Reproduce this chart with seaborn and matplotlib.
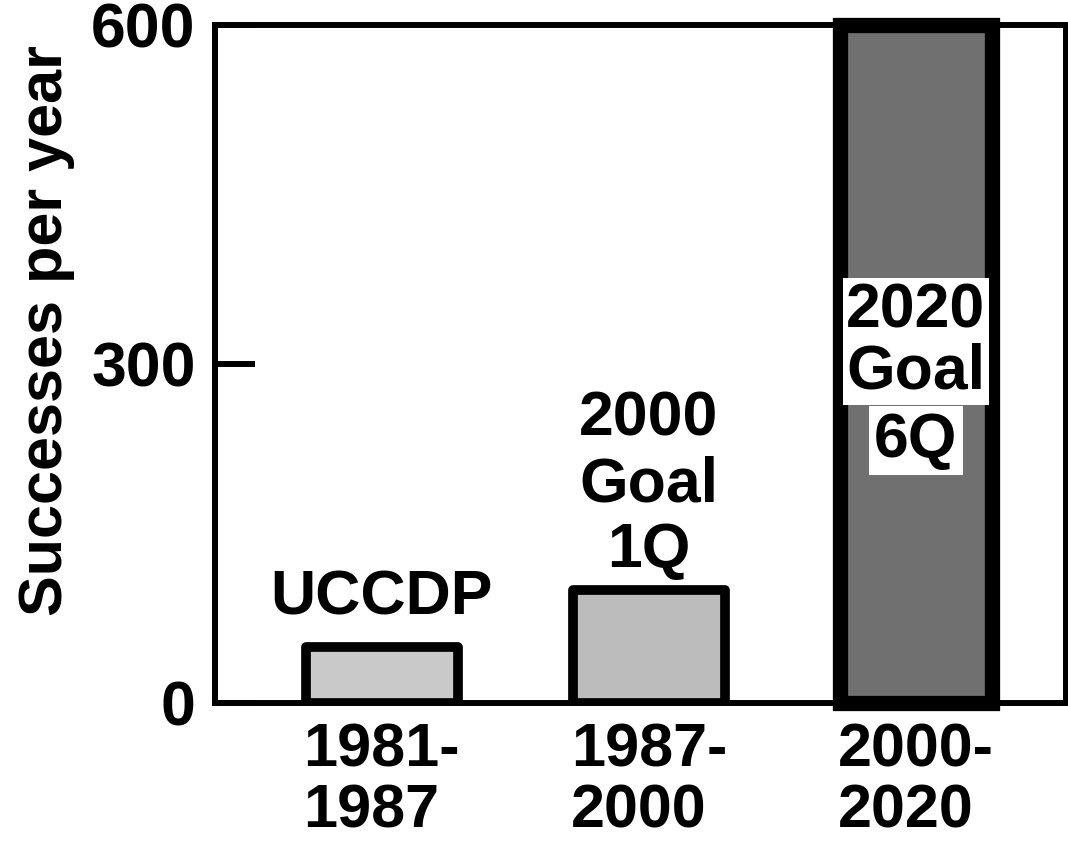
import matplotlib
matplotlib.use("Agg")
import matplotlib.pyplot as plt
import seaborn as sns
import pandas as pd

periods = ["1981-\n1987", "1987-\n2000", "2000-\n2020"]
successes = [50, 100, 600]
bar_colors = ["#c9c9c9", "#bcbcbc", "#707070"]
y_ticks = [0, 300, 600]

sns.set_theme(style="white")
plt.rcParams["font.family"] = ["Liberation Sans", "DejaVu Sans"]
plt.rcParams["font.weight"] = "bold"
plt.rcParams["text.color"] = "black"
plt.rcParams["axes.labelcolor"] = "black"
plt.rcParams["xtick.color"] = "black"
plt.rcParams["ytick.color"] = "black"

df = pd.DataFrame({"period": periods, "successes": successes})

fig = plt.figure(figsize=(10.68, 8.52), dpi=100)
ax = fig.add_axes([215 / 1068, 1 - 703 / 852, 851 / 1068, 678 / 852])

sns.barplot(data=df, x="period", y="successes", hue="period",
            palette=bar_colors, legend=False, width=0.57,
            edgecolor="black", linewidth=7, saturation=1, ax=ax)
for i, p in enumerate(ax.patches):
    p.set_joinstyle("round")
    if i == 2:
        p.set_linewidth(11)
        p.set_joinstyle("miter")
        p.set_clip_on(False)

ax.set_xlim(-0.625, 2.562)
ax.set_ylim(0, 600)
ax.set_yticks(y_ticks)
ax.set_yticklabels([str(t) for t in y_ticks], fontsize=45, fontweight="bold")
for lbl in ax.get_xticklabels():
    lbl.set_fontsize(44)
    lbl.set_fontweight("bold")
    lbl.set_multialignment("left")
    lbl.set_linespacing(1.1)
ax.tick_params(axis="y", left=True, direction="in", length=29, width=4.3, pad=14,
               color="black", labelcolor="black")
ax.tick_params(axis="x", length=0, pad=14, labelcolor="black")
for s in ax.spines.values():
    s.set_visible(True)
    s.set_linewidth(4.3)
    s.set_color("black")

ax.set_xlabel("")
ax.set_ylabel("Successes per year", fontsize=44, fontweight="bold", va="center", color="black")
ax.yaxis.set_label_coords(-0.198, 0.549)

ax.annotate("UCCDP", xy=(0, successes[0]), xytext=(0, 14), textcoords="offset points",
            ha="center", va="bottom", fontsize=45, fontweight="bold", color="black")
ax.annotate("2000\nGoal\n1Q", xy=(1, successes[1]), xytext=(0, 7), textcoords="offset points",
            ha="center", va="bottom", fontsize=45, fontweight="bold", linespacing=1.15,
            color="black")
ax.text(2, 320, "2020\nGoal", ha="center", va="center", fontsize=45, fontweight="bold",
        linespacing=1.05, color="black",
        bbox=dict(facecolor="white", edgecolor="none", boxstyle="square,pad=0.05"))
ax.text(2, 232, "6Q", ha="center", va="center", fontsize=45, fontweight="bold",
        color="black",
        bbox=dict(facecolor="white", edgecolor="none", boxstyle="square,pad=0.08"))

fig.savefig("out.png", dpi=100)
